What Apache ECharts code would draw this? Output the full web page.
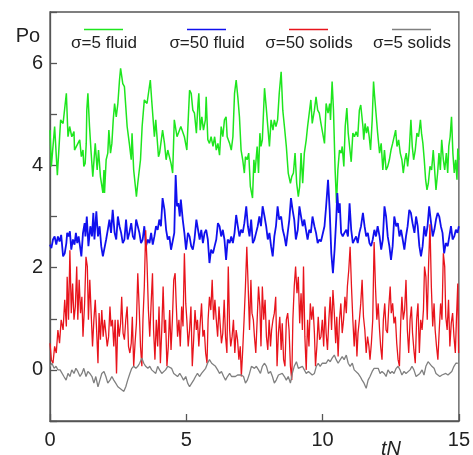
<!DOCTYPE html>
<html>
<head>
<meta charset="utf-8">
<script src="https://cdn.jsdelivr.net/npm/echarts@6/dist/echarts.min.js"></script>
<style>html,body{margin:0;padding:0;background:#fff}#c{width:473px;height:455px}</style>
</head>
<body>
<div id="c"></div>
<script>
var seriesNames = ['σ=5 fluid', 'σ=50 fluid', 'σ=50 solids', 'σ=5 solids'];
var xTicks = [0, 5, 10, 15];
var yTicks = [0, 2, 4, 6];

var fluid5 = [[0.00,4.69],[0.05,3.98],[0.17,4.76],[0.27,3.81],[0.39,4.89],[0.48,4.82],[0.51,4.85],[0.60,5.41],[0.66,4.56],[0.72,4.76],[0.80,4.56],[0.88,4.66],[0.90,4.30],[1.09,4.50],[1.15,4.17],[1.21,4.30],[1.24,3.98],[1.29,4.04],[1.33,4.43],[1.35,5.08],[1.39,5.41],[1.45,4.76],[1.51,4.24],[1.57,3.78],[1.66,4.43],[1.73,3.91],[1.78,4.30],[1.85,3.78],[1.94,3.46],[1.98,3.91],[2.00,3.46],[2.06,4.11],[2.12,4.24],[2.16,4.69],[2.22,4.24],[2.27,4.43],[2.32,4.89],[2.37,5.21],[2.43,4.95],[2.49,5.21],[2.55,5.67],[2.59,5.90],[2.67,5.60],[2.73,5.54],[2.83,4.76],[2.91,4.43],[2.98,4.11],[3.01,4.63],[3.07,3.91],[3.12,3.65],[3.17,3.39],[3.22,3.65],[3.32,4.11],[3.38,4.76],[3.46,5.28],[3.56,5.21],[3.68,5.67],[3.73,5.28],[3.83,4.56],[3.88,4.89],[3.98,4.17],[4.02,4.24],[4.13,4.69],[4.20,4.43],[4.26,4.11],[4.32,4.30],[4.44,4.04],[4.50,3.85],[4.56,4.89],[4.66,4.56],[4.80,4.76],[4.93,4.56],[5.02,4.30],
[5.12,5.47],[5.18,5.41],[5.24,5.08],[5.30,5.02],[5.37,4.63],[5.43,5.21],[5.46,5.41],[5.51,4.69],[5.57,4.95],[5.63,4.69],[5.70,4.89],[5.73,5.34],[5.79,4.50],[5.85,4.43],[5.91,4.56],[5.98,4.37],[6.04,4.56],[6.10,4.30],[6.16,4.43],[6.22,4.20],[6.28,4.76],[6.34,4.56],[6.40,4.89],[6.46,4.95],[6.50,4.56],[6.59,4.43],[6.65,4.30],[6.71,4.56],[6.77,5.41],[6.83,5.67],[6.89,5.34],[6.95,4.95],[7.01,4.30],[7.07,4.11],[7.13,3.85],[7.17,4.17],[7.23,4.11],[7.29,4.24],[7.35,3.59],[7.43,3.36],[7.48,4.11],[7.52,3.85],[7.60,4.37],[7.65,3.85],[7.70,4.63],[7.74,4.37],[7.79,4.50],[7.87,5.51],[7.93,5.15],[7.99,4.76],[8.05,4.37],[8.11,4.89],[8.18,4.69],[8.23,4.89],[8.29,4.76],[8.35,4.89],[8.41,5.41],[8.48,5.83],[8.54,5.08],[8.60,4.76],[8.67,4.37],[8.74,3.85],[8.82,3.65],[8.87,3.78],[8.93,3.85],[8.99,4.24],[9.05,3.65],[9.11,3.39],[9.16,3.59],[9.21,4.24],[9.27,3.65],[9.33,4.24],[9.40,4.50],[9.45,4.76],[9.51,5.02],[9.57,5.28],[9.62,4.82],[9.70,5.08],[9.76,5.34],[9.82,5.08],[9.88,5.02],[9.94,4.82],
[10.01,4.82],[10.07,4.43],[10.13,5.21],[10.20,5.02],[10.26,5.21],[10.29,4.89],[10.35,5.64],[10.40,5.08],[10.46,3.91],[10.51,3.26],[10.56,3.91],[10.62,4.30],[10.68,4.24],[10.72,4.37],[10.78,3.98],[10.83,4.76],[10.89,5.12],[10.94,4.63],[10.99,4.37],[11.05,4.07],[11.11,4.63],[11.17,4.56],[11.23,4.66],[11.29,4.56],[11.35,5.08],[11.40,5.18],[11.48,4.76],[11.51,4.50],[11.56,4.82],[11.61,4.63],[11.66,4.76],[11.71,4.56],[11.76,4.30],[11.82,4.89],[11.87,5.64],[11.90,5.41],[11.96,5.02],[12.02,4.63],[12.09,4.24],[12.15,4.43],[12.21,3.91],[12.27,4.30],[12.33,3.91],[12.39,3.98],[12.45,4.11],[12.51,4.30],[12.57,4.43],[12.63,4.43],[12.68,4.69],[12.73,4.37],[12.79,4.50],[12.85,4.24],[12.91,4.11],[12.96,3.85],[13.02,4.11],[13.07,4.24],[13.12,3.98],[13.18,4.30],[13.24,4.89],[13.29,4.37],[13.34,4.11],[13.40,4.30],[13.46,4.63],[13.52,4.56],[13.59,4.89],[13.63,4.63],[13.68,4.43],[13.73,4.11],[13.78,3.72],[13.83,3.52],[13.88,3.65],[13.94,3.98],[14.00,3.91],[14.06,4.30],[14.11,3.91],[14.16,3.52],[14.22,3.85],[14.27,4.24],[14.32,3.91],[14.37,4.50],[14.43,4.11],[14.48,3.91],[14.54,4.24],[14.59,3.85],[14.63,4.37],[14.68,4.56],[14.73,4.95],[14.78,4.24],[14.83,3.85],[14.88,4.11],[14.93,3.72],[14.96,4.33],[15.00,4.11]];

var fluid50 = [[0.00,2.45],[0.05,2.38],[0.11,2.55],[0.17,2.61],[0.23,2.45],[0.29,2.61],[0.35,2.51],[0.41,2.64],[0.48,2.22],[0.54,2.28],[0.60,2.48],[0.63,2.68],[0.68,2.61],[0.73,2.71],[0.78,2.35],[0.84,2.55],[0.90,2.45],[0.95,2.68],[1.00,2.48],[1.05,2.61],[1.10,2.42],[1.15,2.22],[1.21,2.68],[1.27,2.87],[1.30,2.61],[1.35,3.00],[1.41,2.42],[1.48,2.81],[1.54,2.61],[1.59,3.07],[1.63,2.55],[1.70,3.10],[1.76,2.61],[1.82,2.81],[1.88,2.42],[1.94,2.22],[2.00,2.22],[2.06,2.55],[2.12,2.74],[2.18,2.94],[2.24,2.68],[2.30,3.13],[2.37,2.68],[2.43,2.55],[2.49,3.00],[2.55,2.81],[2.61,2.68],[2.67,2.48],[2.73,2.55],[2.79,2.94],[2.85,2.55],[2.91,2.68],[2.98,2.87],[3.04,2.61],[3.10,2.55],[3.16,2.94],[3.22,2.81],[3.28,2.68],[3.34,2.48],[3.40,2.55],[3.46,2.81],[3.52,2.42],[3.59,2.55],[3.65,2.48],[3.71,2.68],[3.77,2.45],[3.83,2.61],[3.89,2.81],[3.95,2.74],[4.01,2.94],[4.07,2.81],[4.13,3.36],[4.20,3.13],[4.26,2.74],[4.32,2.55],[4.38,2.61],[4.44,2.35],[4.50,2.32],[4.56,2.68],[4.61,3.81],[4.66,3.20],[4.71,3.26],[4.76,3.00],[4.80,3.33],[4.87,2.94],[4.93,2.68],[4.99,2.35],
[5.06,2.68],[5.12,2.61],[5.18,2.42],[5.24,2.35],[5.30,2.55],[5.37,2.94],[5.43,2.94],[5.49,2.55],[5.55,2.74],[5.61,2.48],[5.67,2.68],[5.73,2.74],[5.79,2.55],[5.85,2.09],[5.91,2.35],[5.98,2.28],[6.04,2.42],[6.10,2.55],[6.16,2.87],[6.22,2.81],[6.28,2.61],[6.34,2.74],[6.40,2.55],[6.46,2.15],[6.52,2.55],[6.59,2.48],[6.65,2.61],[6.71,2.48],[6.77,2.68],[6.83,3.03],[6.89,2.81],[6.95,2.61],[7.01,2.74],[7.07,2.68],[7.13,2.87],[7.20,3.20],[7.26,2.81],[7.32,2.61],[7.38,2.94],[7.44,2.48],[7.50,2.55],[7.56,2.68],[7.62,2.81],[7.68,3.00],[7.74,2.81],[7.80,3.20],[7.87,3.00],[7.93,2.81],[7.99,2.55],[8.05,2.68],[8.11,2.42],[8.17,2.22],[8.23,2.61],[8.29,2.81],[8.35,3.20],[8.41,2.94],[8.48,3.00],[8.54,2.74],[8.60,2.61],[8.66,2.42],[8.72,2.68],[8.78,2.94],[8.84,3.36],[8.90,3.13],[8.96,2.94],[9.02,2.55],[9.09,2.74],[9.15,3.20],[9.21,3.00],[9.27,2.81],[9.33,2.94],[9.39,2.74],[9.45,2.55],[9.51,2.74],[9.57,2.68],[9.63,3.00],[9.70,2.81],[9.76,2.68],[9.82,2.48],[9.88,2.55],[9.94,2.51],[10.00,2.48],
[10.07,2.81],[10.13,3.20],[10.20,3.72],[10.26,3.13],[10.32,2.28],[10.38,1.89],[10.44,2.35],[10.50,2.94],[10.54,3.46],[10.59,3.07],[10.63,3.26],[10.68,2.68],[10.74,2.61],[10.80,2.68],[10.87,2.74],[10.93,2.61],[10.99,3.26],[11.05,2.74],[11.11,2.48],[11.17,2.51],[11.23,2.61],[11.29,2.48],[11.35,2.68],[11.41,2.81],[11.48,3.07],[11.54,2.81],[11.60,2.61],[11.66,2.68],[11.72,2.48],[11.78,2.42],[11.84,2.55],[11.90,2.74],[11.96,2.61],[12.02,2.81],[12.09,2.61],[12.15,2.35],[12.21,2.55],[12.27,3.20],[12.33,3.00],[12.39,2.61],[12.45,2.42],[12.51,2.15],[12.57,2.42],[12.63,3.00],[12.70,2.81],[12.76,2.87],[12.82,2.61],[12.88,2.74],[12.94,2.55],[13.00,2.35],[13.06,2.61],[13.12,2.81],[13.18,3.13],[13.24,3.07],[13.30,2.87],[13.37,2.68],[13.43,3.00],[13.49,2.81],[13.55,2.42],[13.61,2.22],[13.67,2.42],[13.73,2.81],[13.79,2.61],[13.85,2.81],[13.91,3.20],[13.98,2.87],[14.04,2.61],[14.10,2.74],[14.16,2.94],[14.22,3.07],[14.28,3.00],[14.34,2.81],[14.40,2.68],[14.46,2.28],[14.52,2.48],[14.59,2.42],[14.65,2.61],[14.71,2.81],[14.77,2.55],[14.83,2.61],[14.89,2.74],[14.95,2.68],[15.00,2.81]];

var solids50 = [[0.00,0.52],[0.05,0.20],[0.11,0.13],[0.17,0.46],[0.23,0.33],[0.29,0.78],[0.35,0.52],[0.41,0.98],[0.48,0.78],[0.54,1.37],[0.60,0.85],[0.63,1.82],[0.68,0.98],[0.73,2.34],[0.78,1.11],[0.83,1.69],[0.88,0.98],[0.93,1.24],[0.98,2.02],[1.02,0.98],[1.07,1.76],[1.12,1.11],[1.17,1.43],[1.21,0.65],[1.27,1.30],[1.32,2.21],[1.37,2.02],[1.41,0.98],[1.46,1.76],[1.51,1.11],[1.56,0.46],[1.61,0.98],[1.66,1.37],[1.71,0.78],[1.76,0.13],[1.80,1.11],[1.85,0.59],[1.90,1.17],[1.95,0.65],[2.00,0.98],[2.05,0.72],[2.10,0.46],[2.15,0.65],[2.20,1.24],[2.24,0.85],[2.29,0.98],[2.34,0.46],[2.39,0.98],[2.44,-0.07],[2.49,0.98],[2.54,0.65],[2.59,0.91],[2.63,1.43],[2.68,0.72],[2.73,0.59],[2.78,0.98],[2.83,1.24],[2.88,0.46],[2.93,0.33],[2.98,0.52],[3.02,1.04],[3.07,0.07],[3.12,0.52],[3.17,0.91],[3.22,1.89],[3.27,1.24],[3.32,0.46],[3.37,0.07],[3.41,0.98],[3.46,1.63],[3.51,2.73],[3.56,2.08],[3.61,1.17],[3.66,0.65],[3.71,1.30],[3.76,1.89],[3.80,0.78],[3.85,0.20],[3.90,0.98],[3.95,0.46],[4.00,1.24],[4.05,0.13],[4.10,0.78],[4.15,1.63],[4.20,0.72],[4.24,0.98],[4.29,0.07],[4.34,0.46],[4.39,1.17],[4.44,0.39],[4.49,0.98],[4.54,1.76],[4.59,1.89],[4.63,1.30],[4.68,0.65],[4.73,0.98],[4.78,0.46],[4.83,1.24],[4.88,0.85],[4.93,2.28],[4.98,1.30],[5.02,0.98],[5.07,0.46],[5.12,0.78],[5.17,1.24],[5.22,0.07],[5.27,0.59],[5.32,1.17],[5.37,0.78],[5.41,0.98],[5.46,0.46],[5.51,0.91],[5.56,1.30],[5.61,0.65],[5.66,0.78],[5.71,0.33],[5.76,0.13],[5.80,0.98],[5.85,1.43],[5.90,1.17],[5.95,1.76],[6.00,0.98],[6.05,1.37],[6.10,0.98],[6.15,0.65],[6.20,1.24],[6.24,0.91],[6.29,0.52],[6.34,0.72],[6.39,1.37],[6.44,0.65],[6.49,0.33],[6.54,2.02],[6.59,0.78],[6.63,0.46],[6.68,0.65],[6.73,0.98],[6.78,0.33],[6.83,0.78],[6.88,0.59],[6.93,0.20],[6.98,0.46],[7.02,-0.13],[7.07,0.39],[7.12,0.98],[7.17,1.63],[7.22,2.41],[7.27,1.63],[7.32,0.78],[7.37,1.76],[7.41,1.11],[7.46,0.98],[7.50,0.65],
[7.55,0.33],[7.60,0.98],[7.65,1.63],[7.70,1.24],[7.74,0.46],[7.79,1.63],[7.84,0.98],[7.89,1.37],[7.94,0.65],[7.99,0.39],[8.04,0.98],[8.09,0.46],[8.13,0.78],[8.18,0.98],[8.23,1.11],[8.28,1.43],[8.33,0.07],[8.38,0.72],[8.43,1.04],[8.48,0.39],[8.52,0.91],[8.57,0.20],[8.62,0.07],[8.67,0.98],[8.72,1.11],[8.77,0.78],[8.82,0.07],[8.87,-0.20],[8.91,0.98],[8.96,1.63],[9.01,2.02],[9.06,1.50],[9.11,1.82],[9.16,0.91],[9.21,1.50],[9.26,0.78],[9.30,2.02],[9.35,0.65],[9.40,0.00],[9.45,0.98],[9.50,0.46],[9.55,1.30],[9.60,0.98],[9.65,1.24],[9.70,0.72],[9.74,0.07],[9.79,0.46],[9.84,1.04],[9.89,0.59],[9.94,0.65],[9.99,0.98],[10.04,0.46],[10.09,1.24],[10.13,0.72],[10.18,0.39],[10.23,0.98],[10.28,1.43],[10.33,0.78],[10.38,1.56],[10.43,1.11],[10.48,0.52],[10.52,1.04],[10.57,0.26],[10.62,0.98],[10.67,1.30],[10.72,0.72],[10.77,0.98],[10.82,1.43],[10.87,1.11],[10.91,1.63],[10.96,1.95],[11.01,2.41],[11.06,1.63],[11.11,0.98],[11.16,0.46],[11.21,0.98],[11.26,0.26],[11.30,0.72],[11.35,0.98],[11.40,1.30],[11.45,1.76],[11.50,1.04],[11.55,0.78],[11.60,0.33],[11.65,0.65],[11.70,0.46],[11.74,0.20],[11.79,0.52],[11.84,0.98],[11.89,2.50],[11.94,1.63],[11.99,0.98],[12.04,1.30],[12.09,0.78],[12.13,0.46],[12.18,0.20],[12.23,0.98],[12.28,1.30],[12.33,0.78],[12.38,0.72],[12.43,1.24],[12.48,1.63],[12.52,1.11],[12.57,1.30],[12.62,0.91],[12.67,1.04],[12.72,0.52],[12.77,0.20],[12.82,0.07],[12.87,0.98],[12.91,1.43],[12.96,0.98],[13.01,1.17],[13.06,1.76],[13.11,0.78],[13.16,0.33],[13.21,0.98],[13.26,1.24],[13.30,0.72],[13.35,0.39],[13.40,0.13],[13.45,0.98],[13.50,1.30],[13.55,0.33],[13.60,0.98],[13.65,0.78],[13.70,1.17],[13.74,2.02],[13.79,1.82],[13.84,0.98],[13.89,2.08],[13.94,2.85],[13.99,1.63],[14.04,0.85],[14.09,1.30],[14.13,0.78],[14.18,0.46],[14.23,0.20],[14.28,0.78],[14.33,1.30],[14.38,0.98],[14.43,2.28],[14.48,2.02],[14.52,1.04],[14.57,0.78],[14.62,1.37],[14.67,0.46],[14.72,0.91],[14.77,1.11],[14.82,0.65],[14.87,0.33],[14.91,0.98],[14.96,1.69],[14.99,0.33]];

var solids5 = [[0.00,0.07],[0.07,0.13],[0.15,0.03],[0.22,0.07],[0.29,0.00],[0.37,0.00],[0.44,0.03],[0.51,-0.13],[0.59,-0.20],[0.66,-0.07],[0.73,-0.13],[0.80,0.00],[0.88,-0.07],[0.95,0.03],[1.02,-0.03],[1.10,-0.13],[1.17,-0.07],[1.24,0.03],[1.32,-0.13],[1.39,-0.03],[1.46,-0.07],[1.54,-0.13],[1.61,-0.26],[1.68,-0.13],[1.76,-0.33],[1.83,-0.20],[1.90,-0.07],[1.98,-0.03],[2.05,-0.13],[2.12,-0.26],[2.20,-0.20],[2.27,-0.13],[2.34,-0.20],[2.41,-0.26],[2.49,-0.33],[2.56,-0.33],[2.63,-0.39],[2.71,-0.42],[2.78,-0.33],[2.85,-0.20],[2.93,-0.07],[3.00,0.03],[3.07,0.07],[3.15,0.03],[3.22,0.07],[3.29,0.13],[3.37,0.23],[3.44,0.13],[3.51,0.07],[3.59,0.03],[3.66,0.07],[3.73,0.00],[3.80,0.03],[3.88,-0.07],[3.95,0.07],[4.02,0.00],[4.10,-0.07],[4.17,-0.10],[4.24,0.00],[4.32,0.07],[4.39,0.07],[4.46,0.03],[4.54,-0.07],[4.61,-0.07],[4.68,-0.13],[4.76,-0.07],[4.83,-0.13],[4.90,-0.20],[4.98,-0.13],[5.05,-0.26],[5.12,-0.33],[5.20,-0.26],[5.27,-0.20],[5.34,-0.13],[5.41,-0.07],[5.49,-0.13],[5.56,-0.07],[5.63,-0.07],[5.71,0.03],[5.78,0.13],[5.85,0.20],[5.93,0.13],[6.00,0.16],[6.07,0.07],[6.15,0.00],[6.22,-0.07],[6.29,-0.03],[6.37,-0.13],[6.44,-0.20],[6.51,-0.13],[6.59,-0.07],[6.66,-0.13],[6.73,-0.16],[6.80,-0.13],[6.88,-0.10],[6.95,-0.13],[7.02,-0.10],[7.10,-0.13],[7.17,-0.26],[7.24,-0.20],[7.32,-0.07],[7.39,0.07],[7.46,0.07],
[7.50,0.03],[7.57,0.07],[7.65,0.00],[7.72,-0.07],[7.79,0.07],[7.87,0.13],[7.94,0.07],[8.01,-0.07],[8.09,-0.03],[8.16,-0.13],[8.23,-0.26],[8.30,-0.20],[8.38,-0.10],[8.45,-0.13],[8.52,-0.07],[8.60,-0.13],[8.67,-0.20],[8.74,-0.13],[8.82,-0.26],[8.89,-0.07],[8.96,0.07],[9.04,0.16],[9.11,0.03],[9.18,0.00],[9.26,0.07],[9.33,0.00],[9.40,-0.07],[9.48,-0.03],[9.55,0.00],[9.62,-0.10],[9.70,-0.07],[9.77,0.07],[9.84,0.13],[9.91,0.07],[9.99,0.13],[10.06,0.16],[10.13,0.13],[10.21,0.20],[10.28,0.16],[10.35,0.23],[10.43,0.29],[10.50,0.20],[10.57,0.13],[10.65,0.20],[10.72,0.26],[10.79,0.20],[10.87,0.29],[10.94,0.13],[11.01,0.07],[11.09,0.13],[11.16,0.00],[11.23,0.03],[11.30,-0.07],[11.38,-0.13],[11.45,-0.20],[11.52,-0.26],[11.60,-0.36],[11.67,-0.20],[11.74,-0.13],[11.82,-0.03],[11.89,0.03],[11.96,0.00],[12.04,0.03],[12.11,-0.07],[12.18,-0.03],[12.26,-0.07],[12.33,-0.13],[12.40,0.00],[12.48,-0.07],[12.55,-0.03],[12.62,-0.07],[12.70,0.03],[12.77,0.07],[12.84,0.00],[12.91,-0.10],[12.99,-0.03],[13.06,-0.07],[13.13,-0.10],[13.21,0.00],[13.28,0.07],[13.35,0.00],[13.43,-0.13],[13.50,-0.10],[13.57,-0.07],[13.65,0.00],[13.72,-0.10],[13.79,0.07],[13.87,0.16],[13.94,0.13],[14.01,0.07],[14.09,0.03],[14.16,-0.07],[14.23,-0.10],[14.30,-0.13],[14.38,-0.10],[14.45,-0.13],[14.52,-0.07],[14.60,-0.10],[14.67,-0.07],[14.74,-0.03],[14.82,0.07],[14.89,0.13],[14.96,0.13]];

var colors = ['#1ee61e', '#1010ee', '#e8141c', '#808080'];
var widths = [1.5, 1.8, 1.3, 1.3];
var allData = [fluid5, fluid50, solids50, solids5];
var FONT = '"Liberation Sans", Arial, sans-serif';
var chart = echarts.init(document.getElementById('c'));

var legendX = [104, 207, 309, 412];
var graphics = [];
seriesNames.forEach(function (n, i) {
  graphics.push({
    type: 'line', silent: true,
    shape: { x1: legendX[i] - 20, y1: 29.5, x2: legendX[i] + 19, y2: 29.5 },
    style: { stroke: colors[i], lineWidth: 1.5 }
  });
  graphics.push({
    type: 'text', silent: true, x: legendX[i], y: 43,
    style: { text: n, fill: '#222', font: '17px ' + FONT, textAlign: 'center', textVerticalAlign: 'middle' }
  });
});
graphics.push({ type: 'text', silent: true, x: 28, y: 36,
  style: { text: 'Po', fill: '#222', font: '20px ' + FONT, textAlign: 'center', textVerticalAlign: 'middle' } });
graphics.push({ type: 'text', silent: true, x: 391, y: 449,
  style: { text: 'tN', fill: '#222', font: 'italic 20px ' + FONT, textAlign: 'center', textVerticalAlign: 'middle' } });

chart.setOption({
  animation: false,
  backgroundColor: '#fff',
  grid: { left: 50, top: 12, right: 13, bottom: 34, show: true, borderColor: '#555', borderWidth: 1.3, backgroundColor: 'transparent' },
  xAxis: {
    type: 'value', min: 0, max: 15, interval: 5,
    axisLine: { show: true, onZero: false, lineStyle: { color: '#555', width: 1.3 } },
    axisTick: { show: true, inside: true, length: 7, lineStyle: { color: '#555', width: 1.3 } },
    splitLine: { show: false },
    axisLabel: { color: '#222', fontSize: 20, fontFamily: FONT, margin: 9,
      formatter: function (v) { return xTicks.indexOf(v) >= 0 ? String(v) : ''; } }
  },
  yAxis: {
    type: 'value', min: -1, max: 7, interval: 1,
    axisLine: { show: true, onZero: false, lineStyle: { color: '#555', width: 1.3 } },
    axisTick: { show: true, inside: true, length: 7, lineStyle: { color: '#555', width: 1.3 } },
    splitLine: { show: false },
    axisLabel: { color: '#222', fontSize: 20, fontFamily: FONT, margin: 7,
      formatter: function (v) { return yTicks.indexOf(v) >= 0 ? String(v) : ''; } }
  },
  graphic: graphics,
  series: allData.map(function (d, i) {
    return { name: seriesNames[i], type: 'line', data: d, showSymbol: false, symbol: 'none',
      lineStyle: { color: colors[i], width: widths[i] }, itemStyle: { color: colors[i] }, z: 2 + i, silent: true };
  })
});
</script>
</body>
</html>
